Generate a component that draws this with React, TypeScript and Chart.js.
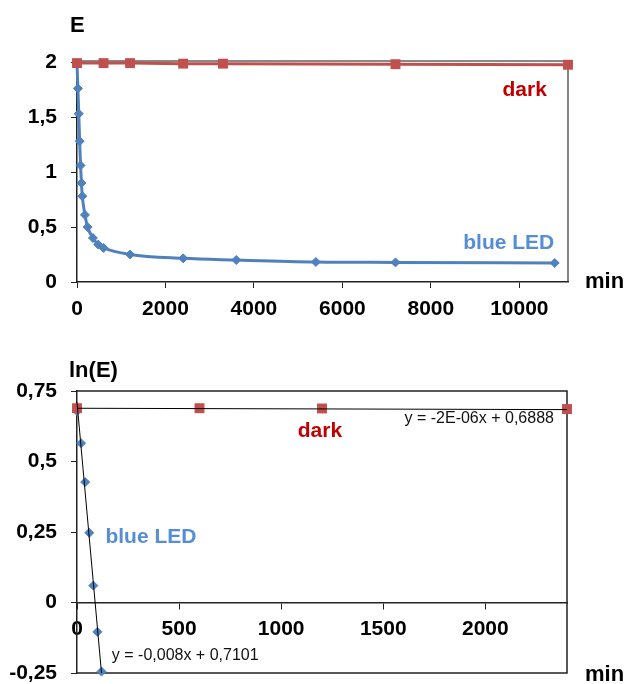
import React, { useEffect, useRef } from 'react';
import { Chart, registerables } from 'chart.js';
Chart.register(...registerables);

const FONT = '"Liberation Sans", Arial, Helvetica, sans-serif';

// ---- Top chart: E vs time (min) ----
const blueTime = [0, 20, 40, 60, 80, 100, 120, 180, 240, 360, 480, 600, 1200, 2400, 3600, 5400, 7200, 10800];
const blueE = [1.99, 1.76, 1.53, 1.28, 1.06, 0.9, 0.78, 0.61, 0.5, 0.4, 0.34, 0.31, 0.25, 0.215, 0.2, 0.182, 0.178, 0.173];
const darkTime = [0, 600, 1200, 2400, 3300, 7200, 11100];
const darkE = [1.99, 1.99, 1.99, 1.985, 1.985, 1.98, 1.975];
const topXTicks = [0, 2000, 4000, 6000, 8000, 10000];
const topYTicks = [0, 0.5, 1, 1.5, 2];

// ---- Bottom chart: ln(E) vs time (min) ----
const lnBlueTime = [0, 20, 40, 60, 80, 100, 120];
const lnBlue = [0.679, 0.565, 0.427, 0.247, 0.06, -0.104, -0.245];
const lnDarkTime = [0, 600, 1200, 2400];
const lnDark = [0.689, 0.689, 0.688, 0.686];
const blueTrendX = [0, 120];
const blueTrendY = [0.7101, -0.2499];
const darkTrendX = [0, 2400];
const darkTrendY = [0.6888, 0.684];
const bottomXTicks = [0, 500, 1000, 1500, 2000];
const bottomYTicks = [-0.25, 0, 0.25, 0.5, 0.75];

const fmt = (v: number) => String(v).replace('.', ',');
const pts = (xs: number[], ys: number[]) => xs.map((x, i) => ({ x, y: ys[i] }));

const BLUE = '#4F81BD';
const RED = '#C0504D';
const DARK_TXT = '#C00000';
const BLUE_TXT = '#558ED5';

type Label = { text: string; x: number; y: number; color: string; font: string; align?: CanvasTextAlign };
type Title = { text: string; px: number; py: number; font: string };

function annotPlugin(labels: Label[], titles: Title[], frame: (chart: any) => void) {
  return {
    id: 'annot',
    beforeDatasetsDraw(chart: any) {
      frame(chart);
    },
    afterDraw(chart: any) {
      const ctx = chart.ctx;
      const xs = chart.scales.x;
      const ys = chart.scales.y;
      ctx.save();
      labels.forEach((l) => {
        ctx.font = l.font;
        ctx.fillStyle = l.color;
        ctx.textAlign = l.align || 'center';
        ctx.textBaseline = 'middle';
        ctx.fillText(l.text, xs.getPixelForValue(l.x), ys.getPixelForValue(l.y));
      });
      titles.forEach((t) => {
        ctx.font = t.font;
        ctx.fillStyle = '#000';
        ctx.textAlign = 'left';
        ctx.textBaseline = 'alphabetic';
        ctx.fillText(t.text, t.px, t.py);
      });
      ctx.restore();
    },
  };
}

const tickFont = { family: FONT, size: 21, weight: 'bold' as const };

function axisCommon(ticks: number[], min: number, max: number, isY: boolean, size: number, tickPad: number) {
  return {
    type: 'linear' as const,
    min,
    max,
    afterBuildTicks: (s: any) => {
      s.ticks = ticks.map((v) => ({ value: v }));
    },
    afterFit: (s: any) => {
      if (isY) s.width = size;
      else s.height = size;
      s.paddingTop = 0;
      s.paddingBottom = 0;
      s.paddingLeft = 0;
      s.paddingRight = 0;
    },
    grid: { drawOnChartArea: false, drawTicks: true, tickLength: 6, color: '#222', lineWidth: 1 },
    border: { display: true, color: '#222', width: 1.5 },
    ticks: {
      font: tickFont,
      color: '#000',
      padding: tickPad,
      maxRotation: 0,
      autoSkip: false,
      callback: (v: any) => fmt(Number(v)),
    },
  };
}

function TopChart() {
  const ref = useRef<HTMLCanvasElement>(null);
  useEffect(() => {
    const frame = (chart: any) => {
      const { ctx, chartArea: a } = chart;
      ctx.save();
      ctx.strokeStyle = '#888';
      ctx.lineWidth = 2;
      ctx.beginPath();
      ctx.moveTo(a.left, a.top - 1);
      ctx.lineTo(a.right, a.top - 1);
      ctx.stroke();
      ctx.strokeStyle = '#333';
      ctx.lineWidth = 1.2;
      ctx.beginPath();
      ctx.moveTo(a.right, a.top);
      ctx.lineTo(a.right, a.bottom);
      ctx.stroke();
      ctx.restore();
    };
    const chart = new Chart(ref.current!, {
      type: 'line',
      data: {
        datasets: [
          {
            data: pts(darkTime, darkE),
            borderColor: RED,
            backgroundColor: RED,
            borderWidth: 3,
            pointStyle: 'rect',
            pointRadius: 7,
            pointBorderWidth: 0,
            clip: false as any,
            tension: 0,
          },
          {
            data: pts(blueTime, blueE),
            borderColor: BLUE,
            backgroundColor: BLUE,
            borderWidth: 3,
            pointStyle: 'rectRot',
            pointRadius: 4.5,
            pointBorderWidth: 1,
            clip: false as any,
            tension: 0.2,
            cubicInterpolationMode: 'monotone',
          },
        ],
      },
      options: {
        responsive: false,
        animation: false,
        devicePixelRatio: 1,
        events: [],
        parsing: false as any,
        layout: { padding: { left: 0, top: 62, right: 61, bottom: 0 } },
        plugins: { legend: { display: false }, tooltip: { enabled: false } },
        scales: {
          x: axisCommon(topXTicks, 0, 11100, false, 48, 9) as any,
          y: axisCommon(topYTicks, 0, 2, true, 77, 14) as any,
        },
      },
      plugins: [
        annotPlugin(
          [
            { text: 'dark', x: 10120, y: 1.745, color: DARK_TXT, font: `bold 21px ${FONT}` },
            { text: 'blue LED', x: 9760, y: 0.355, color: BLUE_TXT, font: `bold 21px ${FONT}` },
          ],
          [
            { text: 'E', px: 70, py: 32, font: `bold 22px ${FONT}` },
            { text: 'min', px: 585, py: 288, font: `bold 22px ${FONT}` },
          ],
          frame
        ),
      ],
    });
    return () => chart.destroy();
  }, []);
  return <canvas ref={ref} width={629} height={330} style={{ position: 'absolute', left: 0, top: 0, width: 629, height: 330 }} />;
}

function BottomChart() {
  const ref = useRef<HTMLCanvasElement>(null);
  useEffect(() => {
    const frame = (chart: any) => {
      const { ctx, chartArea: a } = chart;
      ctx.save();
      ctx.strokeStyle = '#222';
      ctx.lineWidth = 1.5;
      ctx.beginPath();
      ctx.moveTo(a.left, a.top);
      ctx.lineTo(a.right, a.top);
      ctx.lineTo(a.right, a.bottom);
      ctx.lineTo(a.left, a.bottom);
      ctx.stroke();
      ctx.restore();
    };
    const chart = new Chart(ref.current!, {
      type: 'line',
      data: {
        datasets: [
          {
            data: pts(blueTrendX, blueTrendY),
            borderColor: '#000',
            borderWidth: 1,
            pointRadius: 0,
            clip: false as any,
          },
          {
            data: pts(darkTrendX, darkTrendY),
            borderColor: '#000',
            borderWidth: 1,
            pointRadius: 0,
            clip: false as any,
          },
          {
            data: pts(lnDarkTime, lnDark),
            showLine: false,
            borderColor: RED,
            backgroundColor: RED,
            pointStyle: 'rect',
            pointRadius: 7,
            pointBorderWidth: 0,
            clip: false as any,
          },
          {
            data: pts(lnBlueTime, lnBlue),
            showLine: false,
            borderColor: BLUE,
            backgroundColor: BLUE,
            pointStyle: 'rectRot',
            pointRadius: 4.5,
            pointBorderWidth: 1,
            clip: false as any,
          },
        ],
      },
      options: {
        responsive: false,
        animation: false,
        devicePixelRatio: 1,
        events: [],
        parsing: false as any,
        layout: { padding: { left: 0, top: 61, right: 62, bottom: 11 } },
        plugins: { legend: { display: false }, tooltip: { enabled: false } },
        scales: {
          x: { ...(axisCommon(bottomXTicks, 0, 2400, false, 0, 8) as any), position: { y: 0 } },
          y: axisCommon(bottomYTicks, -0.25, 0.75, true, 77, 14) as any,
        },
      },
      plugins: [
        annotPlugin(
          [
            { text: 'dark', x: 1190, y: 0.608, color: DARK_TXT, font: `bold 21px ${FONT}` },
            { text: 'blue LED', x: 362, y: 0.232, color: BLUE_TXT, font: `bold 21px ${FONT}` },
            { text: 'y = -2E-06x + 0,6888', x: 1970, y: 0.651, color: '#111', font: `16px ${FONT}` },
            { text: 'y = -0,008x + 0,7101', x: 530, y: -0.19, color: '#111', font: `16px ${FONT}` },
          ],
          [
            { text: 'ln(E)', px: 69, py: 47, font: `bold 22px ${FONT}` },
            { text: 'min', px: 585, py: 351, font: `bold 22px ${FONT}` },
          ],
          frame
        ),
      ],
    });
    return () => chart.destroy();
  }, []);
  return <canvas ref={ref} width={629} height={354} style={{ position: 'absolute', left: 0, top: 330, width: 629, height: 354 }} />;
}

export default function App() {
  return (
    <div style={{ position: 'absolute', left: 0, top: 0, width: 629, height: 684, background: '#fff' }}>
      <TopChart />
      <BottomChart />
    </div>
  );
}
